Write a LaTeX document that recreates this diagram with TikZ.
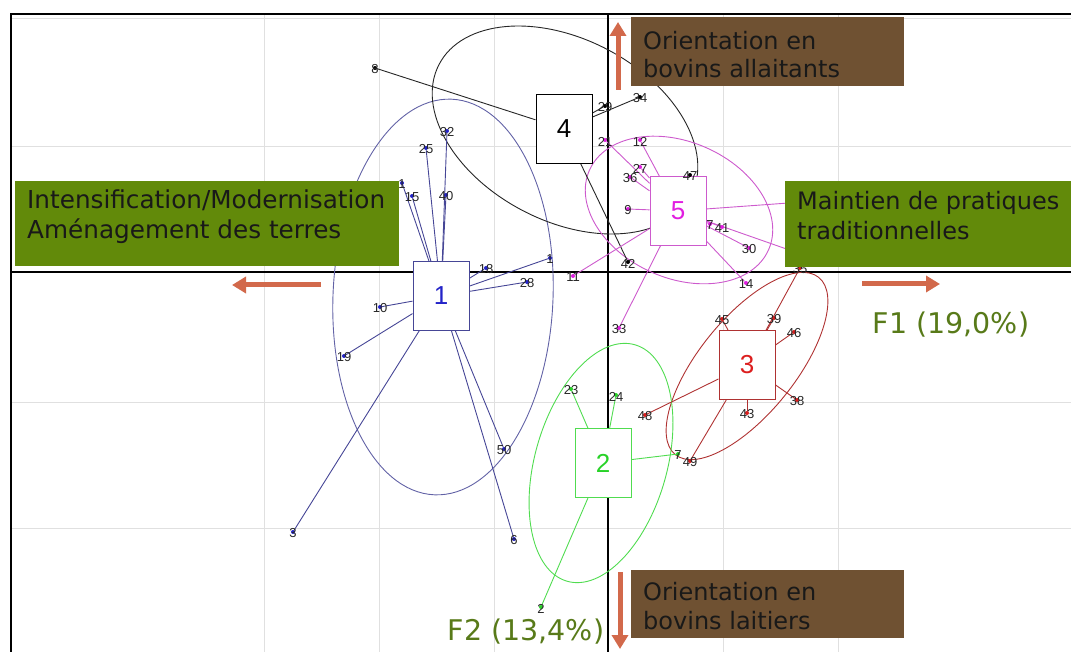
\documentclass[tikz,border=0pt]{standalone}
\usepackage{fontspec}
\setmainfont{DejaVu Sans}
\newfontfamily\plotfont{Liberation Sans}
\usetikzlibrary{arrows.meta}

\definecolor{olivebox}{RGB}{98,138,10}
\definecolor{brownbox}{RGB}{111,81,50}
\definecolor{arrowred}{RGB}{210,105,75}
\definecolor{axistext}{RGB}{88,122,25}
\definecolor{gridgray}{RGB}{224,224,224}
\definecolor{cblue}{RGB}{35,35,200}
\definecolor{lblue}{RGB}{70,70,150}
\definecolor{cmag}{RGB}{225,30,225}
\definecolor{lmag}{RGB}{205,90,205}
\definecolor{cred}{RGB}{220,30,30}
\definecolor{lred}{RGB}{175,50,50}
\definecolor{cgreen}{RGB}{40,210,40}
\definecolor{lgreen}{RGB}{80,220,80}

\pgfdeclarelayer{gridlayer}
\pgfdeclarelayer{background}
\pgfsetlayers{gridlayer,background,main}

\tikzset{
  gridline/.style={draw=gridgray, line width=1pt},
  axisline/.style={draw=black, line width=1.1pt},
  centre/.style={draw=#1, fill=white, line width=1pt, minimum width=56pt, minimum height=69pt,
    inner sep=0pt, font=\plotfont\fontsize{26}{26}\selectfont},
  numlbl/.style={font=\plotfont\fontsize{13}{13}\selectfont, text=black!85, inner sep=0pt, yshift=-1.5pt},
  pnt/.style 2 args={circle, fill=#1, inner sep=0pt, minimum size=4pt, label={[numlbl]center:#2}},
  panel/.style={fill=#1, draw=none, inner sep=0pt},
  paneltext/.style={align=left, inner sep=0pt, text=black!90, font=\fontsize{24}{30}\selectfont},
  orient/.style={draw=arrowred, line width=5pt, -{Triangle[length=14pt,width=16pt]}},
  factor/.style={text=axistext, inner sep=0pt, font=\fontsize{28.5}{28.5}\selectfont},
}

\begin{document}
\begin{tikzpicture}[x=1pt,y=-1pt]
\useasboundingbox (0,0) rectangle (1071,652);

% grid, axes, frame
\begin{pgfonlayer}{gridlayer}
  \foreach \gx in {264,379,494,723,838}
    \draw[gridline] (\gx,14) -- (\gx,652);
  \foreach \gy in {19,147,402,528}
    \draw[gridline] (11,\gy) -- (1071,\gy);
  \draw[axisline] (608,14) -- (608,652);
  \draw[axisline] (11,272) -- (1071,272);
  \draw[black, line width=1.5pt] (11,652) -- (11,14) -- (1071,14);
\end{pgfonlayer}

% class centres
\node[centre=lblue, text=cblue] (C1) at (441,296) {1};
\node[centre=black] (C4) at (564,129) {4};
\node[centre=lmag, text=cmag] (C5) at (678,211) {5};
\node[centre=lred, text=cred] (C3) at (747,365) {3};
\node[centre=lgreen, text=cgreen] (C2) at (603,463) {2};

% class 1
\node[pnt={cblue}{32}] (P32) at (447,131) {};
\node[pnt={cblue}{25}] (P25) at (426,148) {};
\node[pnt={cblue}{40}] (P40) at (446,195) {};
\node[pnt={cblue}{15}] (P15) at (412,196) {};
\node[pnt={cblue}{1}] (P1a) at (402,183) {};
\node[pnt={cblue}{18}] (P18) at (486,268) {};
\node[pnt={cblue}{1}] (P1b) at (550,258) {};
\node[pnt={cblue}{28}] (P28) at (527,282) {};
\node[pnt={cblue}{10}] (P10) at (380,307) {};
\node[pnt={cblue}{19}] (P19) at (344,356) {};
\node[pnt={cblue}{3}] (P3) at (293,532) {};
\node[pnt={cblue}{50}] (P50) at (504,449) {};
\node[pnt={cblue}{6}] (P6) at (514,539) {};

% class 4
\node[pnt={black}{8}] (P8) at (375,68) {};
\node[pnt={black}{29}] (P29) at (605,106) {};
\node[pnt={black}{34}] (P34) at (640,97) {};
\node[pnt={black}{42}] (P42) at (628,262) {};
\node[pnt={black}{47}] (P47) at (690,175) {};

% class 5
\node[pnt={cmag}{21}] (P21) at (605,140) {};
\node[pnt={cmag}{12}] (P12) at (640,140) {};
\node[pnt={cmag}{27}] (P27) at (640,167) {};
\node[pnt={cmag}{36}] (P36) at (630,177) {};
\node[pnt={cmag}{9}] (P9) at (628,209) {};
\node[pnt={cmag}{7}] (P7m) at (710,224) {};
\node[pnt={cmag}{41}] (P41) at (722,227) {};
\node[pnt={cmag}{30}] (P30) at (749,248) {};
\node[pnt={cmag}{14}] (P14) at (746,283) {};
\node[pnt={cmag}{11}] (P11) at (573,276) {};
\node[pnt={cmag}{33}] (P33) at (619,328) {};
\coordinate (H1) at (830,200);
\coordinate (H2) at (815,259);

% class 3
\node[pnt={cred}{35}] (P35) at (800,268) {};
\node[pnt={cred}{45}] (P45) at (722,319) {};
\node[pnt={cred}{39}] (P39) at (774,318) {};
\node[pnt={cred}{46}] (P46) at (794,332) {};
\node[pnt={cred}{38}] (P38) at (797,400) {};
\node[pnt={cred}{43}] (P43) at (747,413) {};
\node[pnt={cred}{48}] (P48) at (645,415) {};
\node[pnt={cred}{49}] (P49) at (690,461) {};

% class 2
\node[pnt={cgreen}{23}] (P23) at (571,389) {};
\node[pnt={cgreen}{24}] (P24) at (616,395) {};
\node[pnt={cgreen}{7}] (P7) at (678,454) {};
\node[pnt={cgreen}{2}] (P2) at (541,607) {};

\begin{pgfonlayer}{background}
  % ellipses
  \draw[lblue!85, line width=0.9pt, rotate around={-2.5:(443,297)}] (443,297) ellipse [x radius=110, y radius=198];
  \draw[black!85, line width=0.9pt, rotate around={-27.5:(565,130)}] (565,130) ellipse [x radius=142, y radius=91];
  \draw[lmag, line width=0.9pt, rotate around={-24:(679,210)}] (679,210) ellipse [x radius=98, y radius=68];
  \draw[lred, line width=0.9pt, rotate around={51:(747,366)}] (747,366) ellipse [x radius=114, y radius=48];
  \draw[lgreen, line width=0.9pt, rotate around={74:(601,463)}] (601,463) ellipse [x radius=123, y radius=66];

  \begin{scope}[every edge/.style={draw=lblue, line width=0.9pt}]
    \path (C1) edge (P32) edge (P25) edge (P40) edge (P15) edge (P1a) edge (P18) edge (P1b)
               edge (P28) edge (P10) edge (P19) edge (P3) edge (P50) edge (P6);
  \end{scope}
  \begin{scope}[every edge/.style={draw=black!85, line width=0.9pt}]
    \path (C4) edge (P8) edge (P29) edge (P34) edge (P42);
  \end{scope}
  \begin{scope}[every edge/.style={draw=lmag, line width=0.9pt}]
    \path (C5) edge (P21) edge (P12) edge (P27) edge (P36) edge (P9) edge (P7m) edge (P41)
               edge (P30) edge (P14) edge (P11) edge (P33) edge (H1) edge (H2);
  \end{scope}
  \begin{scope}[every edge/.style={draw=lred, line width=0.9pt}]
    \path (C3) edge (P35) edge (P45) edge (P39) edge (P46) edge (P38) edge (P43) edge (P48) edge (P49);
  \end{scope}
  \begin{scope}[every edge/.style={draw=lgreen, line width=0.9pt}]
    \path (C2) edge (P23) edge (P24) edge (P7) edge (P2);
  \end{scope}
\end{pgfonlayer}

% panels
\node[panel=olivebox, minimum width=384pt, minimum height=85pt] (intens) at (207,223.5) {};
\node[paneltext, anchor=north west, font=\fontsize{24.7}{30}\selectfont] (intenstext) at (27,190) {Intensification/Modernisation\\Aménagement des terres};
\node[panel=olivebox, minimum width=290pt, minimum height=86pt] (maintien) at (930,224) {};
\node[paneltext, anchor=north west] (maintientext) at (797,191) {Maintien de pratiques\\traditionnelles};
\node[panel=brownbox, minimum width=273pt, minimum height=69pt] (allait) at (767.5,51.5) {};
\node[paneltext, anchor=north west, font=\fontsize{24}{28}\selectfont] (allaittext) at (643,31) {Orientation en\\bovins allaitants};
\node[panel=brownbox, minimum width=273pt, minimum height=68pt] (lait) at (767.5,604) {};
\node[paneltext, anchor=north west, font=\fontsize{24}{29}\selectfont] (laittext) at (643,582) {Orientation en\\bovins laitiers};

% orientation arrows
\coordinate (upS) at (618,90);  \coordinate (upE) at (618,22);
\coordinate (dnS) at (620,572); \coordinate (dnE) at (620,649);
\coordinate (lfS) at (321,285); \coordinate (lfE) at (232,285);
\coordinate (rtS) at (862,284); \coordinate (rtE) at (940,284);
\draw[orient] (upS) -- (upE);
\draw[orient] (dnS) -- (dnE);
\draw[orient] (lfS) -- (lfE);
\draw[orient] (rtS) -- (rtE);

% factor names
\node[factor] (F1) at (951,325) {F1 (19,0\%)};
\node[factor] (F2) at (526,632) {F2 (13,4\%)};
\end{tikzpicture}
\end{document}
